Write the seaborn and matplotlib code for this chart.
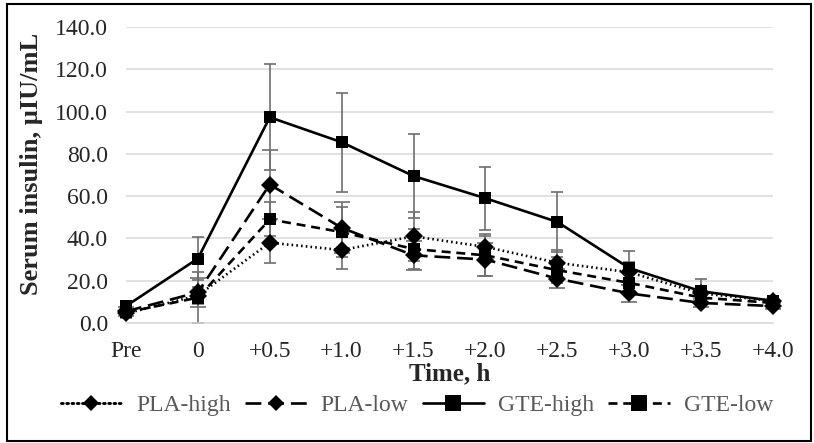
import numpy as np
import pandas as pd
import matplotlib
matplotlib.use("Agg")
import matplotlib.pyplot as plt
from matplotlib.lines import Line2D
from matplotlib.patches import Rectangle
import seaborn as sns

# Werte
times = ["Pre", "0", "+0.5", "+1.0", "+1.5", "+2.0", "+2.5", "+3.0", "+3.5", "+4.0"]
groups = ["PLA-high", "PLA-low", "GTE-high", "GTE-low"]

pla_high = [4.5, 13.0, 38.0, 34.5, 41.0, 36.0, 28.5, 24.0, 14.0, 10.5]
pla_low = [5.5, 14.5, 65.5, 45.0, 32.0, 30.0, 21.0, 14.0, 9.5, 8.0]
gte_high = [8.0, 30.5, 97.3, 85.5, 69.5, 59.0, 47.8, 26.0, 15.0, 10.5]
gte_low = [5.0, 12.0, 49.0, 43.0, 35.0, 32.0, 25.0, 19.0, 12.0, 9.5]

pla_high_err = [2.0, 4.0, 9.5, 9.0, 11.5, 5.0, 6.0, 5.0, 3.0, 2.0]
pla_low_err = [2.0, 7.0, 16.5, 12.0, 7.0, 8.0, 4.5, 4.0, 2.0, 1.5]
gte_high_err = [2.0, 10.0, 25.0, 23.5, 20.0, 15.0, 14.2, 8.0, 5.8, 2.0]
gte_low_err = [2.0, 12.0, 8.0, 12.0, 9.5, 10.0, 6.0, 5.0, 3.0, 2.0]

means = [pla_high, pla_low, gte_high, gte_low]
errs = [pla_high_err, pla_low_err, gte_high_err, gte_low_err]

df = pd.DataFrame({
    "pos": np.tile(np.arange(len(times)), len(groups)),
    "Gruppe": np.repeat(groups, len(times)),
    "wert": np.concatenate(means),
    "fehler": np.concatenate(errs),
})

sns.set_style("white")
plt.rcParams["font.family"] = ["Liberation Serif", "DejaVu Serif"]

markers = {"PLA-high": "D", "PLA-low": "D", "GTE-high": "s", "GTE-low": "s"}
dashes = {"PLA-high": (0.6, 1.2), "PLA-low": (6, 2.6), "GTE-high": "", "GTE-low": (3.4, 2.2)}
msizes = {"D": 8.4, "s": 11.2}

fig = plt.figure(figsize=(8.14, 4.43), dpi=100)
ax = fig.add_axes([126 / 814, 1 - 323 / 443, 647 / 814, 296 / 443])

# Fehlerbalken zuerst, damit sie hinter den Linien liegen
for g in groups:
    d = df[df["Gruppe"] == g]
    ax.errorbar(d["pos"], d["wert"], yerr=d["fehler"], fmt="none",
                ecolor="#6e6e6e", elinewidth=1.2, capsize=4.3, capthick=1.2,
                zorder=2, clip_on=False)

sns.lineplot(data=df, x="pos", y="wert", hue="Gruppe", style="Gruppe",
             palette=["black"] * 4, markers=markers, dashes=dashes,
             markersize=9, linewidth=1.9, markeredgewidth=0,
             legend=False, ax=ax, zorder=3, clip_on=False)

# Markergroessen je nach Form anpassen
for line, g in zip(ax.lines, groups):
    line.set_markersize(msizes[markers[g]])
    if g == "PLA-high":
        line.set_dash_capstyle("round")
        line.set_linewidth(2.1)

ax.set_xlim(0, len(times) - 1)
ax.set_ylim(0, 140)
ax.set_yticks(np.arange(0, 141, 20))
ax.set_yticklabels([f"{v:.1f}" for v in np.arange(0, 141, 20)])
ax.set_xticks(np.arange(len(times)))
ax.set_xticklabels(times)

ax.grid(axis="y", color="#d9d9d9", linewidth=1.1)
ax.grid(axis="x", visible=False)
for s in ["top", "right", "left"]:
    ax.spines[s].set_visible(False)
ax.spines["bottom"].set_color("#d9d9d9")
ax.spines["bottom"].set_linewidth(1.1)
ax.tick_params(axis="y", length=0, pad=13, labelsize=17)
ax.tick_params(axis="x", length=5, width=1.1, color="#d9d9d9", direction="out",
               pad=8, labelsize=17)

ax.set_xlabel("Time, h", fontsize=18, fontweight="bold", labelpad=0)
ax.set_ylabel("Serum insulin, µIU/mL", fontsize=19, fontweight="bold")
ax.yaxis.set_label_coords(-0.128, 0.537)

handles = []
for g in groups:
    ls = "-" if dashes[g] == "" else (0, dashes[g])
    h = Line2D([], [], color="black", linestyle=ls, linewidth=1.9,
               marker=markers[g], markersize=msizes[markers[g]], markeredgewidth=0)
    if g == "PLA-high":
        h.set_dash_capstyle("round")
        h.set_linewidth(2.1)
    handles.append(h)

fig.legend(handles, groups, loc="center", bbox_to_anchor=(417 / 814, 1 - 405 / 443),
           ncol=4, frameon=False, fontsize=17, handlelength=2.6,
           handletextpad=0.6, columnspacing=0.6, labelcolor="#595959")

# Rahmen um die ganze Abbildung
fig.patches.append(Rectangle((7 / 814, 2 / 443), 804 / 814, 437 / 443,
                             transform=fig.transFigure, fill=False,
                             edgecolor="black", linewidth=1.5))

fig.savefig("out.png", dpi=100)
